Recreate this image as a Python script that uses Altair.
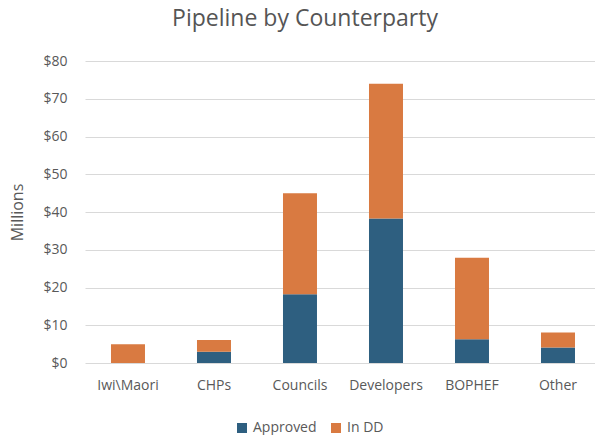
import altair as alt
import pandas as pd

categories = ["Iwi\\Maori", "CHPs", "Councils", "Developers", "BOPHEF", "Other"]
approved = [0, 3, 18.2, 38.3, 6.3, 4.1]
in_dd = [5.0, 3.1, 26.8, 35.7, 21.6, 4.0]
series = ["Approved", "In DD"]
colors = ["#2E5F80", "#D97A41"]

rows = []
for c, a, d in zip(categories, approved, in_dd):
    rows.append({"cat": c, "series": "Approved", "value": a, "ord": 0})
    rows.append({"cat": c, "series": "In DD", "value": d, "ord": 1})
df = pd.DataFrame(rows)

FONT = "Open Sans"
GREY = "#595959"

chart = alt.Chart(df).mark_bar().encode(
    x=alt.X("cat:N", sort=categories, title=None,
            scale=alt.Scale(paddingInner=0.6047, paddingOuter=0.2674, align=0.565),
            axis=alt.Axis(labelAngle=0, domain=False, ticks=False, labelPadding=15,
                          labelFontSize=14, labelColor=GREY, labelFont=FONT)),
    y=alt.Y("value:Q", title="Millions", stack="zero",
            scale=alt.Scale(domain=[0, 80], nice=False),
            axis=alt.Axis(values=[0, 10, 20, 30, 40, 50, 60, 70, 80], format="$.0f",
                          domain=False, ticks=False, labelPadding=18,
                          labelFontSize=14, labelColor=GREY, labelFont=FONT,
                          titleFontSize=16, titleColor=GREY, titleFont=FONT,
                          titleFontWeight="normal", titlePadding=17,
                          gridColor="#d9d9d9", gridWidth=1.2)),
    color=alt.Color("series:N", scale=alt.Scale(domain=series, range=colors),
                    legend=alt.Legend(title=None, orient="none", direction="horizontal",
                                      legendX=150, legendY=360, symbolType="square",
                                      symbolSize=100, labelFontSize=14, labelColor=GREY,
                                      labelFont=FONT, columnPadding=12, symbolOpacity=1)),
    order=alt.Order("ord:Q"),
).properties(
    width=510, height=302,
    title=alt.TitleParams("Pipeline by Counterparty", fontSize=23, font=FONT,
                          color="#555555", fontWeight="normal", anchor="middle",
                          dx=-35, offset=23),
    autosize=alt.AutoSizeParams(type="none"),
    padding={"left": 85, "top": 61, "right": 0, "bottom": 72},
).configure_view(stroke=None)

chart.save("out.html", embed_options={"renderer": "svg", "actions": False})
